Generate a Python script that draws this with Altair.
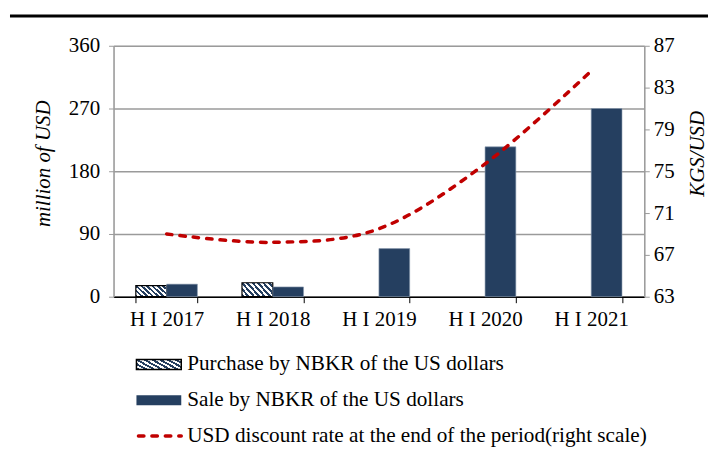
import altair as alt
import pandas as pd

periods = ["H I 2017", "H I 2018", "H I 2019", "H I 2020", "H I 2021"]
purchase = [16, 20, 0, 0, 0]
sale = [18, 14, 69, 215, 270]
rate = [69.0, 68.2, 69.5, 75.7, 84.6]
series_names = ["Purchase by NBKR of the US dollars", "Sale by NBKR of the US dollars"]
line_name = "USD discount rate at the end of the period(right scale)"
left_ticks = [0, 90, 180, 270, 360]
right_ticks = [63, 67, 71, 75, 79, 83, 87]

NAVY = "#253F60"
RED = "#C00000"
FONT = "Liberation Serif"

bars_df = pd.DataFrame({
    "period": periods * 2,
    "series": [series_names[0]] * 5 + [series_names[1]] * 5,
    "value": purchase + sale,
})
line_df = pd.DataFrame({"period": periods, "rate": rate})

# diagonal hatch via a hard-stop linear gradient
stops = []
n = 8
for i in range(n):
    a, b, c = i / n, (i + 0.5) / n, (i + 1) / n
    stops += [alt.GradientStop(color=NAVY, offset=a), alt.GradientStop(color=NAVY, offset=b),
              alt.GradientStop(color="white", offset=b), alt.GradientStop(color="white", offset=c)]
hatch = alt.LinearGradient(gradient="linear", stops=stops, x1=0, y1=1, x2=1.207, y2=0.517)

xenc = alt.X("period:N", sort=periods,
             scale=alt.Scale(paddingInner=0.42, paddingOuter=0.21),
             axis=alt.Axis(title=None, labelAngle=0, domainColor="black", domainWidth=1.5,
                           tickColor="black", tickSize=6, tickBand="extent",
                           labelFontSize=21, labelPadding=6, labelColor="black"))
xoff = alt.XOffset("series:N", scale=alt.Scale(domain=series_names, paddingInner=0))
yleft = alt.Y("value:Q", scale=alt.Scale(domain=[0, 360]),
              axis=alt.Axis(title="million of USD", values=left_ticks, grid=True, gridColor="#9a9a9a",
                            gridWidth=1.5, domainColor="#9a9a9a", domainWidth=1.5, tickColor="#9a9a9a",
                            tickSize=5, labelFontSize=21, labelPadding=9, labelColor="black",
                            titleFontSize=21, titleFontStyle="italic", titleFontWeight="normal",
                            titleColor="black", titleAngle=270, titleX=-70, titleY=118,
                            titleAlign="center", titleBaseline="middle"))

base = alt.Chart(bars_df).transform_filter(alt.datum.value > 0)
purchase_bars = base.transform_filter(alt.datum.series == series_names[0]).mark_bar(
    fill=hatch, stroke="black", strokeWidth=1.2).encode(x=xenc, xOffset=xoff, y=yleft)
sale_bars = base.transform_filter(alt.datum.series == series_names[1]).mark_bar(
    fill=NAVY, stroke="#8a9bb0", strokeWidth=0.6).encode(x=xenc, xOffset=xoff, y=yleft)

line = alt.Chart(line_df).mark_line(color=RED, strokeWidth=3.5, strokeDash=[5.5, 8],
                                    strokeCap="round", interpolate="cardinal").encode(
    x=alt.X("period:N", sort=periods),
    y=alt.Y("rate:Q", scale=alt.Scale(domain=[63, 87]),
            axis=alt.Axis(orient="right", title="KGS/USD", values=right_ticks, grid=False,
                          domainColor="#9a9a9a", domainWidth=1.5, tickColor="#9a9a9a", tickSize=5,
                          labelFontSize=21, labelPadding=4, labelColor="black",
                          titleFontSize=21, titleFontStyle="italic", titleFontWeight="normal",
                          titleColor="black", titleAngle=270, titleX=53, titleY=108,
                          titleAlign="center", titleBaseline="middle")))

one = alt.Chart(pd.DataFrame({"k": [0]}))
top_rule = one.mark_rule(color="black", strokeWidth=3).encode(
    x=alt.value(-104), x2=alt.value(597), y=alt.value(-30))
leg_hatch = one.mark_rect(fill=hatch, stroke="black", strokeWidth=1.5).encode(
    x=alt.value(23), x2=alt.value(68), y=alt.value(315), y2=alt.value(325))
leg_sale = one.mark_rect(fill=NAVY).encode(
    x=alt.value(23), x2=alt.value(68), y=alt.value(351), y2=alt.value(361))
leg_line = one.mark_rule(color=RED, strokeWidth=3.5, strokeDash=[5.5, 8], strokeCap="round").encode(
    x=alt.value(25), x2=alt.value(68), y=alt.value(392))
legend_df = pd.DataFrame({"label": series_names + [line_name], "row": [0, 1, 2]})
leg_text = [
    alt.Chart(legend_df[legend_df.row == r]).mark_text(
        align="left", baseline="middle", font=FONT, fontSize=21.3, color="black").encode(
        x=alt.value(74), y=alt.value(320 + 36 * r), text="label:N")
    for r in range(3)
]

chart = alt.layer(
    alt.layer(purchase_bars, sale_bars), line, top_rule, leg_hatch, leg_sale, leg_line, *leg_text
).resolve_scale(y="independent").properties(
    width=533, height=252, padding={"left": 0, "top": 5, "right": 0, "bottom": 0}
).configure_view(stroke=None).configure(font=FONT)

chart.save("out.html", embed_options={"renderer": "svg", "actions": False})
